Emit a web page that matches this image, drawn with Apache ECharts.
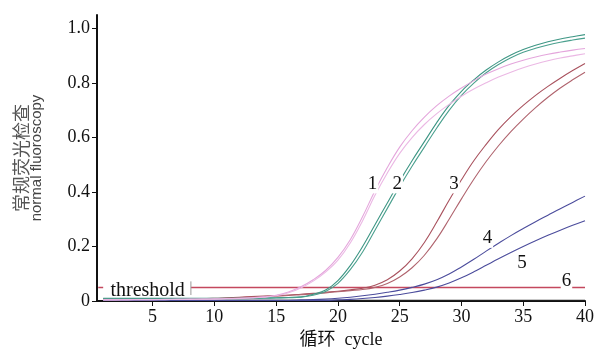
<!DOCTYPE html>
<html>
<head>
<meta charset="utf-8">
<script src="https://cdn.jsdelivr.net/npm/echarts@6/dist/echarts.min.js"></script>
<style>
html, body { margin: 0; padding: 0; background: #fff; }
#chart { width: 607px; height: 354px; }
</style>
</head>
<body>
<div id="chart"></div>
<script>
// 循环数
const cycles = [1, 2, 3, 4, 5, 6, 7, 8, 9, 10, 11, 12, 13, 14, 15, 16, 17, 18, 19, 20,
  21, 22, 23, 24, 25, 26, 27, 28, 29, 30, 31, 32, 33, 34, 35, 36, 37, 38, 39, 40]

// 曲线数据 (每条两个重复)
const curve1a = [0.004, 0.004, 0.005, 0.005, 0.005, 0.006, 0.006, 0.007, 0.007, 0.008,
  0.009, 0.010, 0.012, 0.015, 0.021, 0.033, 0.052, 0.078, 0.112, 0.160,
  0.225, 0.310, 0.405, 0.490, 0.565, 0.625, 0.675, 0.717, 0.752, 0.782,
  0.809, 0.833, 0.853, 0.870, 0.884, 0.896, 0.906, 0.914, 0.921, 0.927]
const curve1b = [0.004, 0.004, 0.004, 0.005, 0.005, 0.005, 0.006, 0.006, 0.007, 0.007,
  0.008, 0.009, 0.011, 0.014, 0.019, 0.030, 0.048, 0.073, 0.106, 0.150,
  0.213, 0.295, 0.388, 0.470, 0.542, 0.600, 0.648, 0.688, 0.722, 0.752,
  0.778, 0.801, 0.822, 0.840, 0.856, 0.870, 0.882, 0.892, 0.900, 0.908]
const curve2a = [0.010, 0.010, 0.010, 0.010, 0.010, 0.010, 0.010, 0.010, 0.010, 0.010,
  0.010, 0.010, 0.010, 0.011, 0.012, 0.013, 0.015, 0.025, 0.040, 0.075,
  0.130, 0.200, 0.280, 0.360, 0.440, 0.515, 0.585, 0.655, 0.718, 0.770,
  0.812, 0.848, 0.878, 0.903, 0.923, 0.939, 0.952, 0.962, 0.970, 0.978]
const curve2b = [0.008, 0.008, 0.008, 0.008, 0.008, 0.008, 0.008, 0.008, 0.008, 0.008,
  0.008, 0.008, 0.009, 0.010, 0.011, 0.012, 0.014, 0.021, 0.035, 0.065,
  0.115, 0.180, 0.260, 0.340, 0.420, 0.495, 0.565, 0.635, 0.700, 0.755,
  0.800, 0.838, 0.868, 0.893, 0.913, 0.928, 0.940, 0.950, 0.958, 0.965]
const curve3a = [0.008, 0.008, 0.008, 0.008, 0.008, 0.008, 0.008, 0.009, 0.009, 0.010,
  0.012, 0.014, 0.016, 0.018, 0.020, 0.022, 0.025, 0.028, 0.032, 0.036,
  0.041, 0.047, 0.058, 0.078, 0.110, 0.155, 0.215, 0.290, 0.370, 0.445,
  0.515, 0.575, 0.630, 0.677, 0.718, 0.755, 0.788, 0.818, 0.846, 0.872]
const curve3b = [0.007, 0.007, 0.007, 0.007, 0.007, 0.007, 0.007, 0.008, 0.008, 0.009,
  0.010, 0.012, 0.014, 0.016, 0.018, 0.020, 0.023, 0.026, 0.030, 0.034,
  0.038, 0.042, 0.050, 0.064, 0.088, 0.122, 0.168, 0.228, 0.300, 0.375,
  0.447, 0.512, 0.570, 0.622, 0.668, 0.710, 0.748, 0.782, 0.812, 0.840]
const curve4 = [0.003, 0.003, 0.003, 0.003, 0.003, 0.003, 0.003, 0.003, 0.003, 0.003,
  0.003, 0.003, 0.003, 0.003, 0.003, 0.003, 0.004, 0.005, 0.007, 0.010,
  0.014, 0.019, 0.025, 0.032, 0.040, 0.050, 0.062, 0.078, 0.099, 0.125,
  0.153, 0.183, 0.212, 0.240, 0.266, 0.291, 0.315, 0.339, 0.362, 0.385]
const curve5 = [0.002, 0.002, 0.002, 0.002, 0.002, 0.002, 0.002, 0.002, 0.002, 0.002,
  0.002, 0.002, 0.002, 0.002, 0.002, 0.002, 0.002, 0.002, 0.002, 0.004,
  0.006, 0.009, 0.013, 0.018, 0.024, 0.031, 0.040, 0.051, 0.066, 0.085,
  0.107, 0.131, 0.155, 0.178, 0.200, 0.221, 0.241, 0.260, 0.278, 0.295]
const curve6 = [0.003, 0.003, 0.003, 0.003, 0.003, 0.003, 0.003, 0.003, 0.003, 0.003,
  0.003, 0.003, 0.003, 0.003, 0.003, 0.003, 0.003, 0.003, 0.003, 0.003,
  0.003, 0.003, 0.003, 0.003, 0.003, 0.003, 0.003, 0.003, 0.003, 0.003,
  0.003, 0.003, 0.003, 0.003, 0.003, 0.003, 0.003, 0.003, 0.003, 0.003]

// 阈值
const thresholdValue = 0.05
const thresholdStart = 8.1

// 刻度
const xTicks = [5, 10, 15, 20, 25, 30, 35, 40]
const yTicks = [0, 0.2, 0.4, 0.6, 0.8, 1.0]

// 曲线编号标注 [cycle, value, 名称]
const curveLabels = [
  [22.8, 0.43, '1'],
  [24.8, 0.43, '2'],
  [29.4, 0.43, '3'],
  [32.1, 0.23, '4'],
  [34.9, 0.138, '5'],
  [38.5, 0.073, '6']
]

const pair = (arr) => cycles.map((c, i) => [c, arr[i]])

const makeLine = (arr, color) => ({
  type: 'line',
  data: pair(arr),
  smooth: 0.4,
  symbol: 'none',
  silent: true,
  lineStyle: { color: color, width: 1.1 },
  z: 3
})

const serif = 'Liberation Serif, DejaVu Serif, serif'
const thresholdColor = '#c4485e'

const myChart = echarts.init(document.getElementById('chart'))

const options = {
  animation: false,
  backgroundColor: '#fff',
  grid: { left: 97, right: 22, top: 15, bottom: 51 },
  xAxis: {
    type: 'value',
    min: 0.5,
    max: 40,
    name: '循环  cycle',
    nameLocation: 'middle',
    nameGap: 30,
    nameTextStyle: { color: '#111', fontSize: 18, fontFamily: serif + ', Noto Sans CJK SC' },
    axisLine: { lineStyle: { color: '#111', width: 2 } },
    axisTick: { show: true, customValues: xTicks, length: 5, lineStyle: { color: '#111', width: 1 } },
    axisLabel: { customValues: xTicks, color: '#111', fontSize: 18, fontFamily: serif, margin: 7 },
    splitLine: { show: false }
  },
  yAxis: {
    type: 'value',
    min: 0,
    max: 1.05,
    name: '{cn|常规荧光检查}\n{en|normal fluoroscopy}',
    nameLocation: 'middle',
    nameRotate: 90,
    nameGap: 52,
    nameTextStyle: {
      rich: {
        cn: { fontSize: 18, color: '#555', fontFamily: 'Noto Sans CJK SC', lineHeight: 15 },
        en: { fontSize: 15, color: '#444', fontFamily: 'Liberation Sans, Arial, sans-serif', lineHeight: 16 }
      }
    },
    axisLine: { show: true, lineStyle: { color: '#111', width: 2 } },
    axisTick: { show: true, customValues: yTicks, length: 5, lineStyle: { color: '#111', width: 1 } },
    axisLabel: {
      customValues: yTicks,
      color: '#111',
      fontSize: 18,
      fontFamily: serif,
      margin: 7,
      formatter: (v) => (v === 0 ? '0' : v.toFixed(1))
    },
    splitLine: { show: false }
  },
  series: [
    makeLine(curve6, '#222'),
    makeLine(curve5, '#4b4c9c'),
    makeLine(curve4, '#4b4c9c'),
    makeLine(curve3a, '#a9525e'),
    makeLine(curve3b, '#b0646e'),
    makeLine(curve2a, '#3d9684'),
    makeLine(curve2b, '#4aa08e'),
    makeLine(curve1a, '#e4a6dc'),
    makeLine(curve1b, '#ebb8e4'),
    {
      // 阈值线
      type: 'line',
      silent: true,
      symbol: 'none',
      data: [[thresholdStart, thresholdValue], [40, thresholdValue]],
      lineStyle: { color: thresholdColor, width: 1.5 },
      z: 2
    },
    {
      // 阈值线左端短线
      type: 'line',
      silent: true,
      symbol: 'none',
      data: [[0.6, thresholdValue], [1.0, thresholdValue]],
      lineStyle: { color: thresholdColor, width: 1.5 },
      z: 2
    },
    {
      // 阈值标签右侧竖线
      type: 'line',
      silent: true,
      symbol: 'none',
      data: [[thresholdStart, 0.022], [thresholdStart, 0.072]],
      lineStyle: { color: '#999', width: 1 },
      z: 2
    },
    {
      // 阈值标签
      type: 'scatter',
      silent: true,
      symbolSize: 0,
      itemStyle: { opacity: 1 },
      data: [[4.6, thresholdValue]],
      label: {
        show: true,
        position: 'inside',
        formatter: 'threshold',
        color: '#111',
        fontSize: 20,
        fontFamily: serif,
        offset: [0, 3]
      },
      z: 4
    },
    {
      // 曲线编号
      type: 'scatter',
      silent: true,
      symbolSize: 0,
      itemStyle: { opacity: 1 },
      data: curveLabels,
      label: {
        show: true,
        position: 'inside',
        formatter: (p) => p.data[2],
        color: '#111',
        fontSize: 19,
        fontFamily: serif,
        backgroundColor: '#fff',
        padding: [0, 1]
      },
      z: 5
    }
  ]
}
myChart.setOption(options)
</script>
</body>
</html>
